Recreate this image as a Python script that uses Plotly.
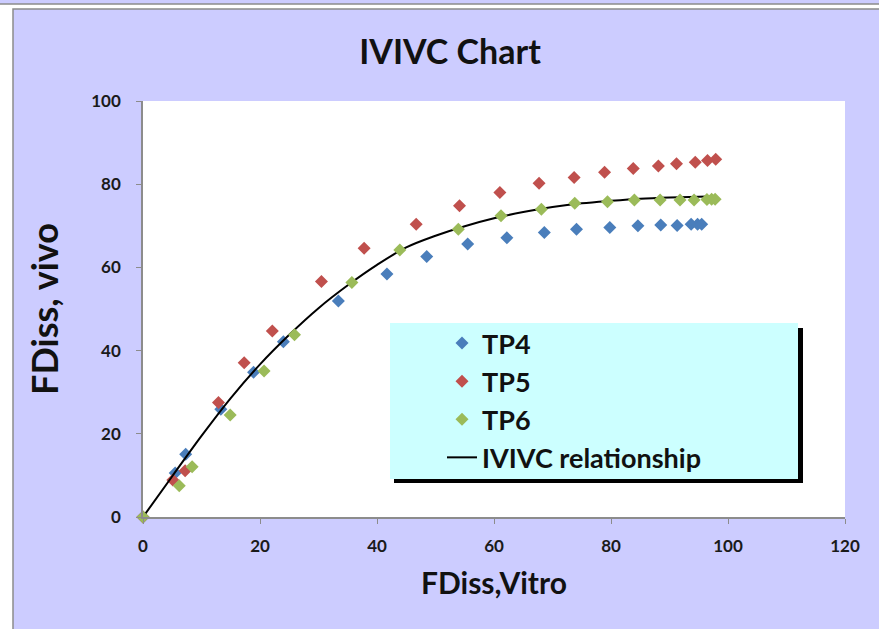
import plotly.graph_objects as go

# ---- data ----
tp4_x = [0, 5.5, 7.3, 13.3, 18.9, 24.0, 33.4, 41.7, 48.5, 55.5, 62.2, 68.6, 74.1, 79.8, 84.6, 88.5, 91.3, 93.7, 94.8, 95.5]
tp4_y = [0, 10.6, 15.1, 25.9, 34.8, 42.1, 51.9, 58.4, 62.6, 65.6, 67.1, 68.4, 69.2, 69.6, 70.0, 70.2, 70.1, 70.4, 70.4, 70.4]

tp5_x = [0, 5.1, 7.2, 12.9, 17.3, 22.1, 30.5, 37.8, 46.7, 54.1, 61.0, 67.7, 73.7, 78.9, 83.8, 88.1, 91.2, 94.4, 96.5, 97.9]
tp5_y = [0, 8.9, 11.1, 27.5, 37.1, 44.7, 56.6, 64.6, 70.4, 74.8, 78.0, 80.2, 81.6, 82.9, 83.8, 84.4, 84.9, 85.3, 85.7, 86.0]

tp6_x = [0, 6.2, 8.4, 14.9, 20.7, 25.9, 35.7, 43.9, 53.9, 61.2, 68.1, 73.8, 79.4, 84.0, 88.4, 91.8, 94.2, 96.4, 97.2, 97.8]
tp6_y = [0, 7.5, 12.1, 24.5, 35.1, 43.8, 56.4, 64.2, 69.2, 72.4, 74.0, 75.4, 75.8, 76.2, 76.2, 76.2, 76.2, 76.3, 76.4, 76.4]

ivivc_x = [0, 5, 10, 15, 20, 25, 30, 35, 40, 45, 50, 55, 60, 65, 70, 75, 80, 85, 90, 95, 98]
ivivc_y = [0, 9.8, 19.5, 28.6, 36.7, 43.8, 50.2, 55.7, 60.6, 64.8, 67.6, 69.9, 71.8, 73.3, 74.5, 75.4, 76.0, 76.5, 76.8, 77.0, 77.1]

x_ticks = [0, 20, 40, 60, 80, 100, 120]
y_ticks = [0, 20, 40, 60, 80, 100]

# ---- layout geometry helpers (pixels -> paper) ----
W, H = 879, 629
L, R, T, B = 143, 845, 101, 517


def px(x):
    return (x - L) / (R - L)


def py(y):
    return (B - y) / (B - T)


FONT = "Lato"

fig = go.Figure()

fig.add_trace(go.Scatter(x=tp4_x, y=tp4_y, mode="markers", name="TP4", legendgroup="a", legendrank=1,
                         marker=dict(symbol="diamond", size=10, color="#4A7EBB"), cliponaxis=False))
fig.add_trace(go.Scatter(x=tp5_x, y=tp5_y, mode="markers", name="TP5", legendgroup="b", legendrank=2,
                         marker=dict(symbol="diamond", size=10, color="#C0504D"), cliponaxis=False))
fig.add_trace(go.Scatter(x=ivivc_x, y=ivivc_y, mode="lines", name="IVIVC relationship", legendgroup="d",
                         legendrank=4,
                         line=dict(color="black", width=2, shape="spline"), cliponaxis=False))
fig.add_trace(go.Scatter(x=tp6_x, y=tp6_y, mode="markers", name="TP6", legendgroup="c", legendrank=3,
                         marker=dict(symbol="diamond", size=10, color="#9BBB59"), cliponaxis=False))

shapes = [
    # outer chart frame
    dict(type="rect", xref="paper", yref="paper", layer="below",
         x0=px(13), x1=px(900), y0=py(660), y1=py(9),
         fillcolor="#CCCCFF", line=dict(color="#8C8C8C", width=1.5)),
    # top strip
    dict(type="rect", xref="paper", yref="paper", layer="below",
         x0=px(-20), x1=px(900), y0=py(4), y1=py(-20),
         fillcolor="#CCCCFF", line=dict(color="#8C8C8C", width=1.5)),
    # plot area
    dict(type="rect", xref="paper", yref="paper", layer="below",
         x0=0, x1=1, y0=0, y1=1, fillcolor="white", line=dict(width=0)),
    # legend shadow + box
    dict(type="rect", xref="paper", yref="paper", layer="below",
         x0=px(394), x1=px(803), y0=py(483), y1=py(328),
         fillcolor="black", line=dict(width=0)),
    dict(type="rect", xref="paper", yref="paper", layer="below",
         x0=px(390), x1=px(798), y0=py(479), y1=py(323),
         fillcolor="#CCFFFF", line=dict(width=0)),
]

axis_common = dict(
    showgrid=False, zeroline=False, showline=True, linecolor="#8C8C8C", linewidth=1.5,
    ticks="outside", ticklen=5, tickcolor="#8C8C8C", tickwidth=1,
    tickfont=dict(family=FONT, size=17, color="#1A1A1A", weight="bold"),
)

fig.update_layout(
    width=W, height=H,
    margin=dict(l=L, r=W - R, t=T, b=H - B, autoexpand=False),
    paper_bgcolor="white",
    plot_bgcolor="rgba(0,0,0,0)",
    shapes=shapes,
    title=dict(text="IVIVC Chart", x=450 / W, xanchor="center", xref="container",
               y=1 - 52 / H, yanchor="middle",
               font=dict(family=FONT, size=34, color="#111111", weight="bold")),
    xaxis=dict(range=[0, 120], tickvals=x_ticks, ticklabelstandoff=8, **axis_common,
               title=dict(text="FDiss,Vitro", standoff=18,
                          font=dict(family=FONT, size=30, color="#111111", weight="bold"))),
    yaxis=dict(range=[0, 100], tickvals=y_ticks, ticklabelstandoff=12, **axis_common,
               title=dict(text="FDiss, vivo", standoff=22,
                          font=dict(family=FONT, size=36, color="#111111", weight="bold"))),
    showlegend=True,
    legend=dict(x=px(442), y=py(319), xanchor="left", yanchor="top",
                bgcolor="rgba(0,0,0,0)", borderwidth=0,
                traceorder="grouped", tracegroupgap=0,
                font=dict(family=FONT, size=27, color="#111111", weight="bold")),
)

fig.write_html("out.html")
